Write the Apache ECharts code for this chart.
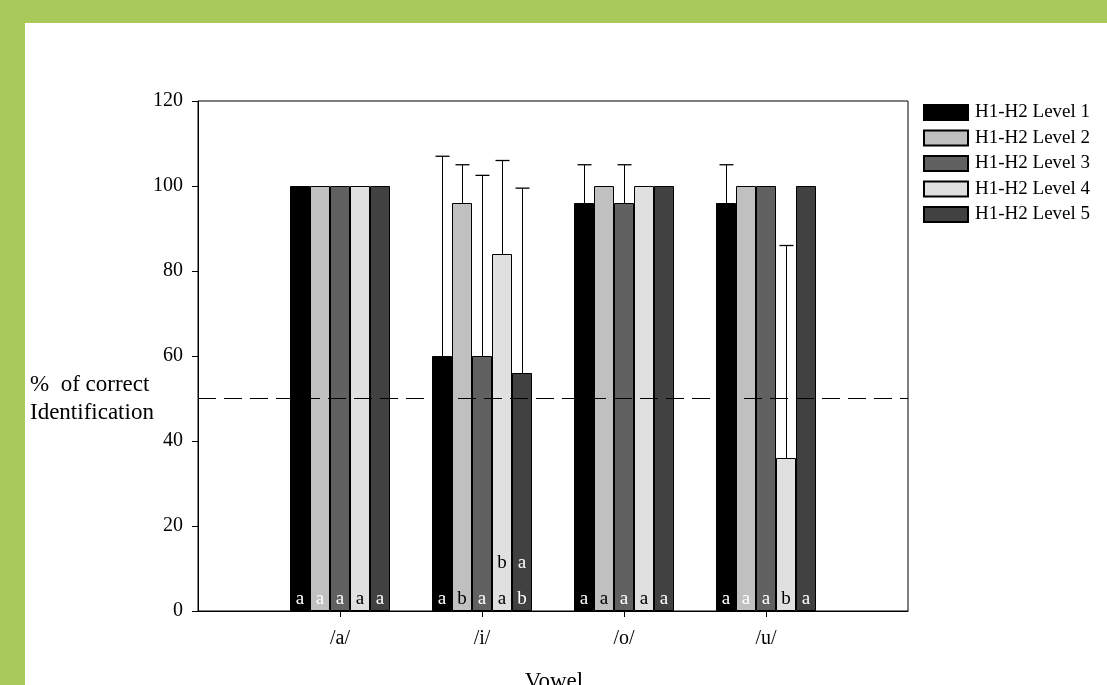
<!DOCTYPE html>
<html>
<head>
<meta charset="utf-8">
<script src="https://cdn.jsdelivr.net/npm/echarts@6/dist/echarts.min.js"></script>
<style>
html,body{margin:0;padding:0;background:#a9ca5b;width:1107px;height:685px;overflow:hidden;}
#panel{position:absolute;left:25px;top:23px;width:1082px;height:662px;background:#fff;}
#chart{position:absolute;left:0;top:0;width:1107px;height:685px;}
</style>
</head>
<body>
<div id="panel"></div>
<div id="chart"></div>
<script>
// ---- data ----
const categories = ['/a/', '/i/', '/o/', '/u/'];
const levelNames = ['H1-H2 Level 1', 'H1-H2 Level 2', 'H1-H2 Level 3', 'H1-H2 Level 4', 'H1-H2 Level 5'];
const level1 = [100, 60, 96, 96];
const level2 = [100, 96, 100, 100];
const level3 = [100, 60, 96, 100];
const level4 = [100, 84, 100, 36];
const level5 = [100, 56, 100, 100];
const err1 = [0, 47, 9, 9];
const err2 = [0, 9, 0, 0];
const err3 = [0, 42.5, 9, 0];
const err4 = [0, 22, 0, 50];
const err5 = [0, 43.5, 0, 0];
// significance letters (top line first when two)
const letters1 = ['a', 'a', 'a', 'a'];
const letters2 = ['a', 'b', 'a', 'a'];
const letters3 = ['a', 'a', 'a', 'a'];
const letters4 = ['a', 'b\na', 'a', 'b'];
const letters5 = ['a', 'a\nb', 'a', 'a'];
const yTicks = [0, 20, 40, 60, 80, 100, 120];
const refLine = 50;
const xTitle = 'Vowel';
const yTitle = '%  of correct\nIdentification';

// ---- styling ----
const FONT = '"Liberation Serif", "Times New Roman", serif';
const colors = ['#000000', '#c0c0c0', '#616161', '#e0e0e0', '#414141'];
const barW = 20;
const levels = [level1, level2, level3, level4, level5];
const errs = [err1, err2, err3, err4, err5];
const letters = [letters1, letters2, letters3, letters4, letters5];
function letterColor(lvl, cat) {
  if (lvl === 3) return '#000';
  if (lvl === 1 && (cat === 1 || cat === 2)) return '#000';
  return '#fff';
}

const axisCats = [''].concat(categories).concat(['']);

const series = levels.map((vals, lvl) => {
  const data = ['-'];
  vals.forEach((v, c) => {
    const txt = letters[lvl][c].split('\n').join('\n\n');
    data.push({
      value: v,
      label: { formatter: txt, color: letterColor(lvl, c) }
    });
  });
  data.push('-');
  const s = {
    name: levelNames[lvl],
    type: 'bar',
    barWidth: barW,
    barGap: '0%',
    data: data,
    itemStyle: { color: colors[lvl], borderColor: '#000', borderWidth: 1 },
    label: {
      show: true, position: 'insideBottom', distance: 3,
      fontFamily: FONT, fontSize: 19, lineHeight: 18
    },
    emphasis: { disabled: true },
    z: 2
  };
  if (lvl === 0) {
    s.markLine = {
      silent: true, symbol: ['none', 'none'],
      label: { show: false },
      lineStyle: { type: [18, 8], color: '#000', width: 1 },
      data: [{ yAxis: refLine }]
    };
  }
  return s;
});

const errData = [];
levels.forEach((vals, lvl) => {
  vals.forEach((v, c) => {
    if (errs[lvl][c] > 0) errData.push([c + 1, lvl, v, errs[lvl][c]]);
  });
});

series.push({
  type: 'custom',
  data: errData,
  z: 5,
  silent: true,
  renderItem: function (params, api) {
    const cat = api.value(0), lvl = api.value(1), mean = api.value(2), e = api.value(3);
    const top = api.coord([cat, mean + e]);
    const base = api.coord([cat, mean]);
    const x = Math.round(top[0] + (lvl - 2) * barW) + 0.5;
    const capHalf = 7;
    return {
      type: 'group',
      children: [
        { type: 'line', shape: { x1: x, y1: base[1], x2: x, y2: top[1] }, style: { stroke: '#000', lineWidth: 1 } },
        { type: 'line', shape: { x1: x - capHalf, y1: top[1], x2: x + capHalf, y2: top[1] }, style: { stroke: '#000', lineWidth: 1.3 } }
      ]
    };
  }
});

const chart = echarts.init(document.getElementById('chart'), null, { renderer: 'canvas' });
chart.setOption({
  animation: false,
  backgroundColor: 'transparent',
  textStyle: { fontFamily: FONT },
  grid: { left: 198, right: 199, top: 101, bottom: 74, containLabel: false, outerBoundsMode: 'none',
    show: true, borderColor: '#000', borderWidth: 1, backgroundColor: 'transparent' },
  legend: {
    orient: 'vertical', left: 918, top: 98,
    itemWidth: 44, itemHeight: 15, itemGap: 6.5,
    icon: 'rect',
    textStyle: { fontFamily: FONT, fontSize: 19, color: '#000', padding: [0, 0, 0, 2] },
    selectedMode: false,
    data: levelNames
  },
  xAxis: {
    type: 'category', data: axisCats, boundaryGap: false,
    axisLine: { lineStyle: { color: '#000', width: 1 } },
    axisTick: { show: true, length: 6, lineStyle: { color: '#000' },
      interval: function (i) { return i >= 1 && i <= categories.length; } },
    axisLabel: { fontFamily: FONT, fontSize: 20, color: '#000', margin: 18, interval: 0 },
    splitLine: { show: false }
  },
  yAxis: {
    type: 'value', min: yTicks[0], max: yTicks[yTicks.length - 1], interval: yTicks[1] - yTicks[0],
    axisLine: { show: true, lineStyle: { color: '#000', width: 1 } },
    axisTick: { show: true, length: 6, lineStyle: { color: '#000' } },
    axisLabel: { fontFamily: FONT, fontSize: 20, color: '#000', margin: 15 },
    splitLine: { show: false }
  },
  graphic: [{
    type: 'text', left: 30, top: 371,
    style: { text: yTitle, font: '23px ' + FONT, fill: '#000', lineHeight: 28 }
  }, {
    type: 'text', x: 554, y: 670,
    style: { text: xTitle, font: '23px ' + FONT, fill: '#000', align: 'center', verticalAlign: 'top' }
  }],
  series: series
});
</script>
</body>
</html>
